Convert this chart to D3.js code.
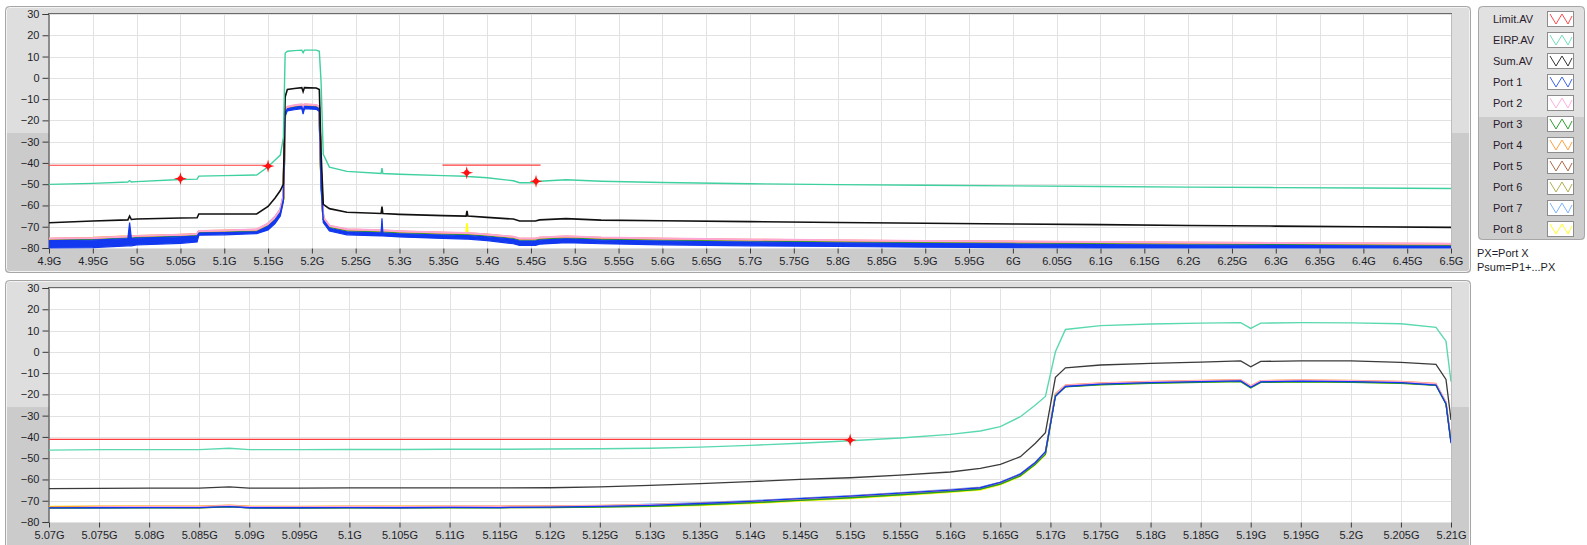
<!DOCTYPE html>
<html><head><meta charset="utf-8">
<script src="https://cdn.jsdelivr.net/npm/d3@7"></script>
<style>
html,body{margin:0;padding:0;background:#fff;}
svg{display:block;font-family:"Liberation Sans",Arial,sans-serif;}
</style></head><body>
<svg id="c" width="1587" height="545"></svg>
<script>
// ---------------- DATA ----------------
const seriesNames = ["Limit.AV","EIRP.AV","Sum.AV","Port 1","Port 2","Port 3","Port 4","Port 5","Port 6","Port 7","Port 8"];
const yTicks = [30,20,10,0,-10,-20,-30,-40,-50,-60,-70,-80];
const topXTicks = [4.9,4.95,5,5.05,5.1,5.15,5.2,5.25,5.3,5.35,5.4,5.45,5.5,5.55,5.6,5.65,5.7,5.75,5.8,5.85,5.9,5.95,6,6.05,6.1,6.15,6.2,6.25,6.3,6.35,6.4,6.45,6.5];
const botXTicks = [5.07,5.075,5.08,5.085,5.09,5.095,5.1,5.105,5.11,5.115,5.12,5.125,5.13,5.135,5.14,5.145,5.15,5.155,5.16,5.165,5.17,5.175,5.18,5.185,5.19,5.195,5.2,5.205,5.21];

// Top chart (GHz)
const topFreq = [4.9,4.95,4.99,4.992,4.994,5.0,5.05,5.069,5.071,5.1,5.137,5.15,5.158,5.164,5.1675,5.1695,5.172,5.18,5.1885,5.19,5.1915,5.205,5.2085,5.2105,5.213,5.22,5.24,5.279,5.28,5.281,5.3,5.35,5.376,5.377,5.378,5.4,5.43,5.437,5.455,5.46,5.49,5.53,5.6,5.7,5.8,5.9,6.0,6.1,6.2,6.3,6.4,6.5];
const eirpTop = [-50.1,-49.6,-49.0,-48.3,-49.0,-48.8,-47.8,-47.6,-46.2,-46.0,-45.7,-41.8,-38.6,-36.3,-28,11.5,12.5,12.8,13.0,11.8,13.0,13.0,12.5,-2,-36,-42,-44,-45,-42.5,-45,-45.3,-46.0,-46.3,-46.3,-46.4,-47.0,-48.4,-49.3,-49.3,-48.6,-47.9,-48.6,-49.2,-49.8,-50.2,-50.5,-50.8,-51.1,-51.4,-51.6,-51.8,-52.0];
const sumTop = [-68.1,-67.3,-66.8,-65.0,-66.6,-66.4,-65.9,-65.8,-64.0,-64.0,-64.0,-60.5,-56.5,-53,-50,-9,-5.5,-5.0,-4.6,-6.5,-4.6,-4.8,-5.5,-35,-59.5,-61.5,-63.2,-63.8,-60.5,-63.8,-64.2,-64.8,-65.0,-62.5,-65.0,-65.6,-66.4,-67.3,-67.3,-66.8,-66.2,-66.9,-67.2,-67.6,-68.0,-68.4,-68.7,-69.0,-69.4,-69.7,-70.0,-70.3];
const port1TopHi = [-76.5,-76.3,-75.6,-68,-75.6,-75.4,-74.8,-74.4,-73.0,-72.8,-72.4,-69.8,-66.8,-63.2,-57,-16.3,-14.6,-13.9,-13.4,-15.6,-13.4,-13.8,-14.6,-46,-66.8,-70.7,-72.4,-72.9,-66,-72.9,-73.3,-73.9,-74.2,-74.2,-74.2,-74.8,-75.9,-76.7,-76.7,-76.3,-75.7,-76.3,-76.7,-77.2,-77.6,-77.9,-78.1,-78.4,-78.6,-78.8,-79.0,-79.2];
const port1TopLo = [-80,-79.8,-79,-79,-79,-78.6,-77.8,-77.2,-74,-73.8,-73.2,-71.5,-68.5,-65,-58,-18,-15.5,-15,-14.5,-17,-14.5,-14.8,-15.8,-52,-68,-72,-73.8,-74.3,-74.3,-74.3,-74.8,-75.5,-75.8,-75.8,-75.8,-76.5,-78,-78.8,-78.8,-78.2,-77.5,-78,-78.5,-79,-79.3,-79.6,-79.8,-80,-80,-80,-80,-80];
const port2Top = [-75.5,-75.3,-74.6,-74.4,-74.6,-74.3,-73.8,-73.4,-72.0,-71.8,-71.3,-68.6,-65.5,-62.0,-55.5,-15.0,-13.6,-12.9,-12.4,-14.6,-12.4,-12.8,-13.6,-44,-65.6,-69.5,-71.2,-71.7,-71.7,-71.7,-72.1,-72.7,-73.0,-73.0,-73.0,-73.6,-74.7,-75.5,-75.5,-75.1,-74.5,-75.1,-75.5,-76.0,-76.4,-76.7,-76.9,-77.2,-77.4,-77.6,-77.8,-78.0];
const port3Top = [-76.0,-75.7,-75.0,-74.8,-75.0,-74.8,-74.2,-73.8,-72.5,-72.2,-71.8,-69.4,-66.5,-63.0,-57,-16,-14.3,-13.6,-13.1,-15.4,-13.1,-13.5,-14.3,-46,-66.4,-70.0,-71.7,-72.2,-72.2,-72.2,-72.6,-73.2,-73.5,-73.5,-73.5,-74.1,-75.2,-76.0,-76.0,-75.6,-75.0,-75.6,-76.0,-76.5,-76.9,-77.2,-77.4,-77.7,-77.9,-78.1,-78.3,-78.5];
const port4Top = [-75.6,-75.2,-74.5,-74.4,-74.5,-74.4,-73.8,-73.4,-72.1,-71.8,-71.4,-68.8,-65.7,-62.2,-55.8,-15.3,-13.8,-13.1,-12.6,-14.8,-12.5,-12.9,-13.8,-44.5,-65.8,-69.6,-71.3,-71.8,-71.8,-71.8,-72.2,-72.8,-73.1,-73.1,-73.1,-73.7,-74.8,-75.6,-75.6,-75.2,-74.6,-75.2,-75.6,-76.1,-76.5,-76.8,-77.0,-77.3,-77.5,-77.7,-77.9,-78.1];
const port5Top = [-75.8,-75.5,-74.8,-74.6,-74.8,-74.6,-74.0,-73.6,-72.3,-72.0,-71.6,-69.0,-66.0,-62.5,-56,-15.5,-14.0,-13.3,-12.8,-15.0,-12.8,-13.2,-14.0,-45,-66,-69.8,-71.5,-72.0,-72.0,-72.0,-72.4,-73.0,-73.3,-73.3,-73.3,-73.9,-75.0,-75.8,-75.8,-75.4,-74.8,-75.4,-75.8,-76.3,-76.7,-77.0,-77.2,-77.5,-77.7,-77.9,-78.1,-78.3];
const port6Top = [-75.9,-75.6,-74.9,-74.7,-74.9,-74.7,-74.1,-73.7,-72.4,-72.1,-71.7,-69.2,-66.2,-62.8,-56.5,-15.8,-14.1,-13.4,-12.9,-15.1,-12.9,-13.3,-14.1,-45.5,-66.2,-69.9,-71.6,-72.1,-72.1,-72.1,-72.5,-73.1,-73.4,-73.4,-73.4,-74.0,-75.1,-75.9,-75.9,-75.5,-74.9,-75.5,-75.9,-76.4,-76.8,-77.1,-77.3,-77.6,-77.8,-78.0,-78.2,-78.4];
const port7Top = [-76.1,-75.8,-75.1,-74.9,-75.1,-74.9,-74.3,-73.9,-72.6,-72.3,-71.7,-68.5,-65.3,-61.8,-55.5,-15.6,-14.3,-13.6,-13.1,-15.3,-13.1,-13.5,-14.3,-45,-66.3,-70.1,-71.8,-72.3,-72.3,-72.3,-72.7,-73.3,-73.6,-73.6,-73.6,-74.2,-75.3,-76.1,-76.1,-75.7,-75.1,-75.7,-76.1,-76.6,-77.0,-77.3,-77.5,-77.8,-78.0,-78.2,-78.4,-78.6];
const port8Top = [-76.2,-75.9,-75.2,-75.0,-75.2,-75.0,-74.4,-74.0,-72.7,-72.4,-72.0,-69.8,-67.0,-63.5,-57.5,-16.2,-14.4,-13.7,-13.2,-15.4,-13.2,-13.6,-14.4,-46,-66.4,-70.2,-71.9,-72.4,-72.4,-72.4,-72.8,-73.4,-73.7,-68.7,-73.7,-74.3,-75.4,-76.2,-76.2,-75.8,-75.2,-75.8,-76.2,-76.7,-77.1,-77.4,-77.6,-77.9,-78.1,-78.3,-78.5,-78.7];
const limitTopStart = [4.9, 5.349];
const limitTopEnd = [5.15, 5.461];
const limitTopLevel = [-41.1, -41.0];
const markTopFreq = [5.05, 5.15, 5.3767, 5.4558];
const markTopVal = [-47.4, -41.5, -44.6, -48.6];

// Bottom chart (GHz)
const botFreq = [5.07,5.075,5.08,5.085,5.088,5.09,5.095,5.1,5.105,5.11,5.115,5.12,5.125,5.13,5.135,5.14,5.145,5.15,5.155,5.16,5.163,5.165,5.167,5.1685,5.1695,5.1705,5.1715,5.175,5.18,5.185,5.189,5.19,5.191,5.195,5.2,5.205,5.2085,5.2095,5.21];
const eirpBot = [-46.2,-46.0,-46.0,-46.0,-45.3,-46.0,-46.0,-45.9,-45.9,-45.8,-45.8,-45.7,-45.6,-45.3,-44.8,-44.0,-43.0,-41.8,-40.5,-38.8,-37.2,-35.2,-30.5,-25,-21,0,10.5,12.3,13.1,13.5,13.7,11,13.5,13.7,13.6,13.2,11.5,5,-14];
const sumBot = [-64.3,-64.2,-64.1,-64.1,-63.5,-64.1,-64.1,-64.0,-64.0,-64.0,-64.0,-63.9,-63.5,-62.8,-62.0,-61.0,-60.0,-59.2,-58.0,-56.5,-54.8,-52.9,-49.3,-43,-38,-12,-7.5,-6.2,-5.4,-4.8,-4.3,-7,-4.5,-4.3,-4.3,-5.0,-5.9,-13,-32];
const port1Bot = [-73.4,-73.3,-73.2,-73.2,-72.8,-73.3,-73.3,-73.2,-73.3,-73.1,-73.2,-73.0,-72.7,-72.2,-71.3,-70.3,-69.0,-67.8,-66.4,-65.0,-63.9,-61.4,-57.5,-52.0,-47.0,-21,-16.3,-15.2,-14.5,-14.0,-13.7,-16.7,-14.1,-13.8,-14.0,-14.5,-15.6,-24.5,-43];
const port2Bot = [-73.6,-72.9,-72.7,-72.8,-72.2,-72.8,-72.9,-72.7,-72.8,-72.6,-72.6,-72.5,-72.3,-71.9,-71.2,-70.3,-69.1,-67.9,-66.5,-65.0,-64.0,-61.5,-57.6,-52.2,-47.5,-19.8,-15.7,-14.7,-14.0,-13.5,-13.2,-16.1,-13.6,-13.3,-13.5,-14.0,-15.0,-23.6,-41.5];
const port3Bot = [-73.5,-73.4,-73.3,-73.4,-72.9,-73.4,-73.5,-73.4,-73.4,-73.3,-73.3,-73.2,-73.0,-72.6,-71.9,-71.0,-69.8,-68.6,-67.2,-65.7,-64.6,-62.2,-58.3,-52.8,-48.2,-20.5,-16.5,-15.5,-14.8,-14.3,-14.0,-17.0,-14.4,-14.1,-14.3,-14.8,-15.8,-24.5,-42.5];
const port4Bot = [-72.8,-72.6,-72.5,-72.6,-72.1,-72.6,-72.7,-72.6,-72.6,-72.5,-72.5,-72.4,-72.2,-71.8,-71.1,-70.2,-69.0,-67.8,-66.4,-64.9,-63.8,-61.4,-57.5,-52.0,-47.3,-19.6,-15.6,-14.6,-13.9,-13.4,-13.1,-16.0,-13.5,-13.2,-13.4,-13.9,-14.9,-23.6,-41.6];
const port5Bot = [-73.1,-72.9,-72.8,-72.9,-72.4,-72.9,-73.0,-72.9,-72.9,-72.8,-72.8,-72.7,-72.5,-72.1,-71.4,-70.5,-69.3,-68.1,-66.7,-65.2,-64.1,-61.7,-57.8,-52.3,-47.6,-19.9,-15.9,-14.9,-14.2,-13.7,-13.4,-16.3,-13.8,-13.5,-13.7,-14.2,-15.2,-23.9,-41.9];
const port6Bot = [-73.5,-73.3,-73.2,-73.3,-72.8,-73.3,-73.4,-73.3,-73.3,-73.2,-73.2,-73.1,-72.9,-72.5,-71.8,-70.9,-69.7,-68.5,-67.1,-65.6,-64.5,-62.1,-58.2,-52.7,-48.0,-20.3,-16.3,-15.3,-14.6,-14.1,-13.8,-16.7,-14.2,-13.9,-14.1,-14.6,-15.6,-24.3,-42.3];
const port7Bot = [-73.2,-73.0,-72.9,-73.0,-72.5,-73.0,-73.1,-73.0,-73.0,-72.9,-72.9,-72.8,-72.4,-71.6,-70.9,-70.0,-68.8,-67.6,-66.2,-64.7,-63.6,-61.2,-57.3,-51.8,-47.1,-19.8,-16.0,-15.0,-14.3,-13.8,-13.5,-16.4,-13.9,-13.6,-13.8,-14.3,-15.3,-24,-42];
const port8Bot = [-72.7,-72.7,-72.6,-72.7,-72.2,-72.7,-72.8,-72.7,-72.7,-72.6,-72.6,-72.5,-72.7,-72.8,-72.3,-71.4,-70.2,-69.0,-67.6,-66.1,-65.0,-62.6,-58.6,-53.1,-48.4,-20.6,-16.4,-15.4,-14.7,-14.2,-13.9,-16.8,-14.3,-14.0,-14.2,-14.7,-15.7,-24.3,-42.4];
const limitBotStart = [5.07];
const limitBotEnd = [5.15];
const limitBotLevel = [-41.2];
const markBotFreq = [5.15];
const markBotVal = [-41.5];

// ---------------- STYLE ----------------
const colors = {"Limit.AV":"#ff3b3b","EIRP.AV":"#40d2a2","Sum.AV":"#111111","Port 1":"#1238f0","Port 2":"#ffa6d4","Port 3":"#22a022","Port 4":"#ffa230","Port 5":"#b0603e","Port 6":"#aeae3c","Port 7":"#6cacff","Port 8":"#ffff1a"};
const iconColors = {"Limit.AV":"#ff4a4a","EIRP.AV":"#70e0bc","Sum.AV":"#333333","Port 1":"#3a64f0","Port 2":"#ffb0dc","Port 3":"#30a030","Port 4":"#ffa040","Port 5":"#b06a4a","Port 6":"#b0b050","Port 7":"#7ab4ff","Port 8":"#ffff20"};

const svg = d3.select("#c");
const defs = svg.append("defs");
const fmt = d3.format(".3~f");

function panel(x, y, w, h, split) {
  const id = "pc" + Math.round(y);
  defs.append("clipPath").attr("id", id).append("rect")
    .attr("x", x).attr("y", y).attr("width", w).attr("height", h).attr("rx", 4);
  const g = svg.append("g");
  g.append("rect").attr("x", x).attr("y", y).attr("width", w).attr("height", h)
    .attr("rx", 4).attr("fill", "#dedede");
  g.append("rect").attr("x", x).attr("y", y + split).attr("width", w).attr("height", h - split)
    .attr("fill", "#cbcbcb").attr("clip-path", `url(#${id})`);
  g.append("rect").attr("x", x + 1.5).attr("y", y + 1.5).attr("width", w - 3).attr("height", h - 3)
    .attr("rx", 3).attr("fill", "none").attr("stroke", "#f3f3f3").attr("stroke-width", 1);
  g.append("rect").attr("x", x + 0.5).attr("y", y + 0.5).attr("width", w - 1).attr("height", h - 1)
    .attr("rx", 4).attr("fill", "none").attr("stroke", "#a6a6a6").attr("stroke-width", 1);
}

function chart(cfg) {
  panel(5, cfg.frameY, 1466, cfg.frameH, 127);
  const x = d3.scaleLinear().domain(cfg.xDomain).range([49, 1451]);
  const y = d3.scaleLinear().domain([-80, 30]).range([cfg.plotBottom, cfg.plotTop]);
  const g = svg.append("g");
  g.append("rect").attr("x", 49).attr("y", cfg.plotTop).attr("width", 1402)
    .attr("height", cfg.plotBottom - cfg.plotTop).attr("fill", "#fff");
  // grid
  g.append("g").selectAll("line.v").data(cfg.xTicks).join("line")
    .attr("x1", d => Math.round(x(d)) + 0.5).attr("x2", d => Math.round(x(d)) + 0.5)
    .attr("y1", cfg.plotTop).attr("y2", cfg.plotBottom)
    .attr("stroke", "#e2e2e2").attr("stroke-width", 1);
  g.append("g").selectAll("line.h").data(yTicks).join("line")
    .attr("x1", 49).attr("x2", 1451)
    .attr("y1", d => Math.round(y(d)) + 0.5).attr("y2", d => Math.round(y(d)) + 0.5)
    .attr("stroke", "#e2e2e2").attr("stroke-width", 1);
  // plot borders
  g.append("line").attr("x1", 48).attr("x2", 1452).attr("y1", cfg.plotTop - 0.5).attr("y2", cfg.plotTop - 0.5)
    .attr("stroke", "#6a6a6a");
  g.append("line").attr("x1", 1451.5).attr("x2", 1451.5).attr("y1", cfg.plotTop).attr("y2", cfg.plotBottom)
    .attr("stroke", "#bdbdbd");

  // axes
  const ya = d3.axisLeft(y).tickValues(yTicks).tickSize(6).tickPadding(3).tickFormat(d3.format("d"));
  const yg = g.append("g").attr("transform", "translate(48.5,0)").call(ya);
  yg.select(".domain").attr("stroke", "#3a3a3a");
  yg.selectAll(".tick line").attr("stroke", "#3a3a3a");
  yg.selectAll("text").attr("font-size", 11).attr("fill", "#1e1e2a").attr("font-family", "Liberation Sans, Arial, sans-serif");

  const xa = d3.axisBottom(x).tickValues(cfg.xTicks).tickSize(5).tickPadding(4)
    .tickFormat(d => fmt(d) + "G").tickSizeOuter(0);
  const xg = g.append("g").attr("transform", `translate(0,${cfg.plotBottom + 0.5})`).call(xa);
  xg.select(".domain").remove();
  xg.selectAll(".tick line").attr("stroke", "#3a3a3a");
  xg.selectAll("text").attr("font-size", 11).attr("fill", "#1e1e2a").attr("font-family", "Liberation Sans, Arial, sans-serif");

  // clip for data
  const cid = "dc" + cfg.plotTop;
  defs.append("clipPath").attr("id", cid).append("rect")
    .attr("x", 49).attr("y", cfg.plotTop - 1).attr("width", 1402).attr("height", cfg.plotBottom - cfg.plotTop + 2);
  const dg = g.append("g").attr("clip-path", `url(#${cid})`);
  const line = d3.line().x((d, i) => x(cfg.freq[i])).y(d => y(d));

  cfg.ports.forEach(p => {
    dg.append("path").datum(p.values).attr("d", line).attr("fill", "none")
      .attr("stroke", colors[p.name]).attr("stroke-width", cfg.portWidth).attr("stroke-linejoin", "round");
  });
  if (cfg.port1Band) {
    const area = d3.area().x((d, i) => x(cfg.freq[i])).y0((d, i) => y(cfg.port1Band.lo[i])).y1(d => y(d));
    dg.append("path").datum(cfg.port1Band.hi).attr("d", area).attr("fill", colors["Port 1"])
      .attr("stroke", colors["Port 1"]).attr("stroke-width", 1.2);
  }
  if (cfg.port1Line) {
    dg.append("path").datum(cfg.port1Line).attr("d", line).attr("fill", "none")
      .attr("stroke", colors["Port 1"]).attr("stroke-width", cfg.portWidth);
  }
  dg.append("path").datum(cfg.sum).attr("d", line).attr("fill", "none")
    .attr("stroke", cfg.sumColor).attr("stroke-width", cfg.sumWidth);
  dg.append("path").datum(cfg.eirp).attr("d", line).attr("fill", "none")
    .attr("stroke", cfg.eirpColor).attr("stroke-width", 1.4);
  // limit
  dg.append("g").selectAll("line").data(cfg.limit.start).join("line")
    .attr("x1", d => x(d)).attr("x2", (d, i) => x(cfg.limit.end[i]))
    .attr("y1", (d, i) => y(cfg.limit.level[i])).attr("y2", (d, i) => y(cfg.limit.level[i]))
    .attr("stroke", colors["Limit.AV"]).attr("stroke-width", 1.2);
  // markers
  const star = "M0,-6.5L1.3,-1.3L6.5,0L1.3,1.3L0,6.5L-1.3,1.3L-6.5,0L-1.3,-1.3Z";
  const mg = g.append("g").selectAll("g").data(cfg.marks.f).join("g")
    .attr("transform", (d, i) => `translate(${x(d)},${y(cfg.marks.v[i])})`);
  mg.append("path").attr("d", star).attr("fill", "#ff1010");
  mg.append("circle").attr("r", 2.6).attr("fill", "#ff1010");
}

chart({
  frameY: 6, frameH: 267, plotTop: 14, plotBottom: 248,
  xDomain: [4.9, 6.5], xTicks: topXTicks, freq: topFreq,
  eirp: eirpTop, sum: sumTop, portWidth: 2, sumWidth: 1.6,
  sumColor: "#111111", eirpColor: "#3fd0a0",
  ports: [
    {name: "Port 8", values: port8Top}, {name: "Port 7", values: port7Top},
    {name: "Port 6", values: port6Top}, {name: "Port 5", values: port5Top},
    {name: "Port 3", values: port3Top}, {name: "Port 4", values: port4Top},
    {name: "Port 2", values: port2Top}
  ],
  port1Band: {hi: port1TopHi, lo: port1TopLo},
  limit: {start: limitTopStart, end: limitTopEnd, level: limitTopLevel},
  marks: {f: markTopFreq, v: markTopVal}
});

chart({
  frameY: 280, frameH: 280, plotTop: 288, plotBottom: 522,
  xDomain: [5.07, 5.21], xTicks: botXTicks, freq: botFreq,
  eirp: eirpBot, sum: sumBot, portWidth: 1.3, sumWidth: 1.3,
  sumColor: "#3a3a3a", eirpColor: "#5ad8b0",
  ports: [
    {name: "Port 8", values: port8Bot}, {name: "Port 7", values: port7Bot},
    {name: "Port 6", values: port6Bot}, {name: "Port 5", values: port5Bot},
    {name: "Port 4", values: port4Bot}, {name: "Port 2", values: port2Bot},
    {name: "Port 3", values: port3Bot}
  ],
  port1Line: port1Bot,
  limit: {start: limitBotStart, end: limitBotEnd, level: limitBotLevel},
  marks: {f: markBotFreq, v: markBotVal}
});

// ---------------- LEGEND ----------------
(function legend() {
  const lx = 1478, ly = 6, lw = 107, lh = 234;
  defs.append("clipPath").attr("id", "lc").append("rect")
    .attr("x", lx).attr("y", ly).attr("width", lw).attr("height", lh).attr("rx", 4);
  svg.append("rect").attr("x", lx).attr("y", ly).attr("width", lw).attr("height", lh).attr("rx", 4).attr("fill", "#e1e1e1");
  svg.append("rect").attr("x", lx).attr("y", 117).attr("width", lw).attr("height", ly + lh - 117)
    .attr("fill", "#cdcdcd").attr("clip-path", "url(#lc)");
  svg.append("rect").attr("x", lx + 0.5).attr("y", ly + 0.5).attr("width", lw - 1).attr("height", lh - 1)
    .attr("rx", 4).attr("fill", "none").attr("stroke", "#a6a6a6");
  const rows = svg.append("g").selectAll("g").data(seriesNames).join("g")
    .attr("transform", (d, i) => `translate(0,${19 + i * 21})`);
  rows.append("text").attr("x", 1493).attr("y", 0).attr("dy", "0.35em")
    .attr("font-size", 11).attr("fill", "#2a1a2a").text(d => d);
  rows.append("rect").attr("x", 1547.5).attr("y", -7.5).attr("width", 26).attr("height", 15)
    .attr("fill", "#fff").attr("stroke", "#8c8c8c");
  rows.append("path").attr("d", "M1550,-5L1556,5L1562,-5L1568,5L1572,-3")
    .attr("fill", "none").attr("stroke", d => iconColors[d]).attr("stroke-width", 1);
  svg.append("text").attr("x", 1477).attr("y", 257).attr("font-size", 11).attr("fill", "#1e1e2a").text("PX=Port X");
  svg.append("text").attr("x", 1477).attr("y", 271).attr("font-size", 11).attr("fill", "#1e1e2a").text("Psum=P1+...PX");
})();
</script>
</body></html>
